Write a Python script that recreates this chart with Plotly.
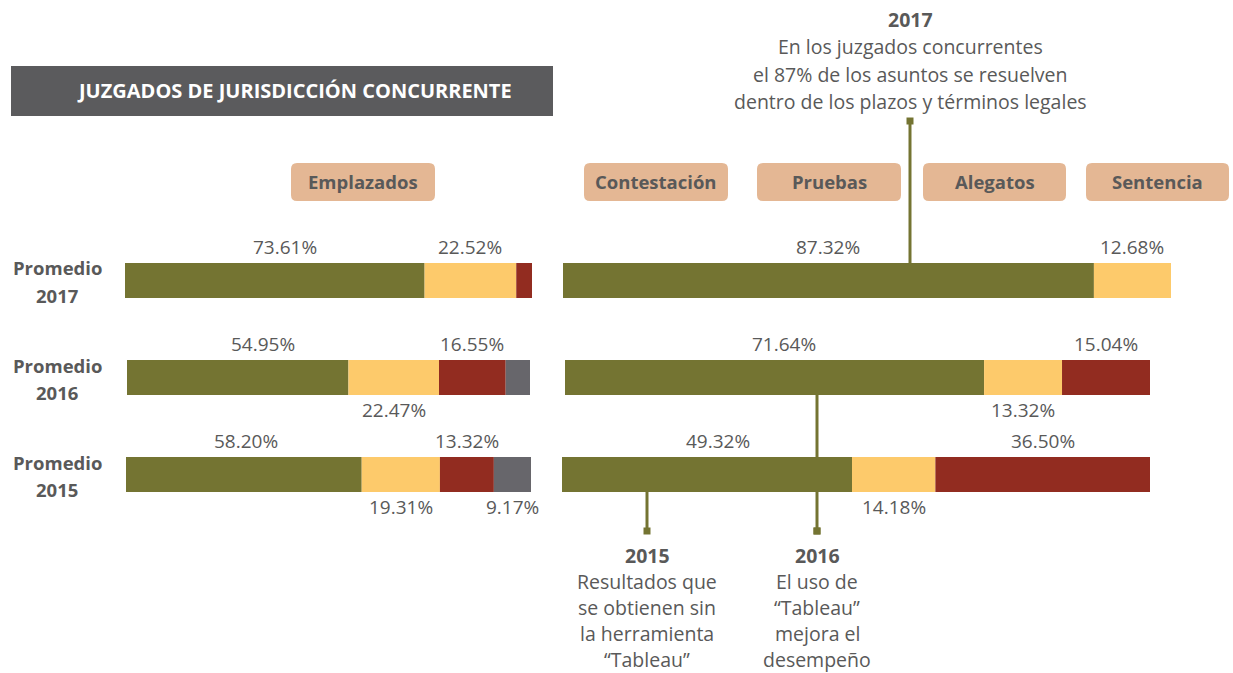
import plotly.graph_objects as go

W, H = 1233, 673

# ---------------- data ----------------
row_labels = [["Promedio", "2017"], ["Promedio", "2016"], ["Promedio", "2015"]]
emplazados_2017 = [73.61, 22.52, 3.87]
emplazados_2016 = [54.95, 22.47, 16.55, 6.03]
emplazados_2015 = [58.20, 19.31, 13.32, 9.17]
etapas_2017 = [87.32, 12.68]
etapas_2016 = [71.64, 13.32, 15.04]
etapas_2015 = [49.32, 14.18, 36.50]
headers = ["Emplazados", "Contestación", "Pruebas", "Alegatos", "Sentencia"]
title_text = "JUZGADOS DE JURISDICCIÓN CONCURRENTE"
note_2017 = ["2017", "En los juzgados concurrentes", "el 87% de los asuntos se resuelven",
             "dentro de los plazos y términos legales"]
note_2015 = ["2015", "Resultados que", "se obtienen sin", "la herramienta", "“Tableau”"]
note_2016 = ["2016", "El uso de", "“Tableau”", "mejora el", "desempeño"]

# ---------------- style ----------------
seg_colors = ["#747432", "#FDCA6B", "#922C20", "#67666B"]
text_grey = "#595959"
FONT = "Open Sans"

def px(x):
    return x / W

def py(y):
    return 1 - y / H

# each bar gets its own axis (pixel extents) ; label placement: a=above, b=below, None=hidden
bars = [
    dict(vals=emplazados_2017, x0=125, x1=532, y0=263, y1=298, lab=["a", "a", None], shift=[10, 0, 0]),
    dict(vals=emplazados_2016, x0=127, x1=530, y0=360, y1=395, lab=["a", "b", "a", None], shift=[25, 0, 0, 0]),
    dict(vals=emplazados_2015, x0=126, x1=531, y0=457, y1=492, lab=["a", "b", "a", "b"], shift=[2, 0, 0, 0]),
    dict(vals=etapas_2017, x0=563, x1=1171, y0=263, y1=298, lab=["a", "a"], shift=[0, 0]),
    dict(vals=etapas_2016, x0=565, x1=1150, y0=360, y1=395, lab=["a", "b", "a"], shift=[9, 0, 0]),
    dict(vals=etapas_2015, x0=562, x1=1150, y0=457, y1=492, lab=["a", "b", "a"], shift=[11, 0, 0]),
]

fig = go.Figure()
annotations = []
shapes = []
layout_axes = {}

for i, b in enumerate(bars, start=1):
    xa = "x" if i == 1 else f"x{i}"
    ya = "y" if i == 1 else f"y{i}"
    xkey = "xaxis" if i == 1 else f"xaxis{i}"
    ykey = "yaxis" if i == 1 else f"yaxis{i}"
    layout_axes[xkey] = dict(domain=[px(b["x0"]), px(b["x1"])], range=[0, sum(b["vals"])],
                             visible=False, fixedrange=True, anchor=ya)
    layout_axes[ykey] = dict(domain=[py(b["y1"]), py(b["y0"])], range=[-0.5, 0.5],
                             visible=False, fixedrange=True, anchor=xa)
    cum = 0
    for j, v in enumerate(b["vals"]):
        fig.add_trace(go.Bar(x=[v], y=[0], base=[cum], orientation="h", width=1,
                             marker=dict(color=seg_colors[j], line=dict(width=0)),
                             xaxis=xa, yaxis=ya, showlegend=False, hoverinfo="skip"))
        pos = b["lab"][j]
        if pos is not None:
            ypix = b["y0"] - 16 if pos == "a" else b["y1"] + 15
            annotations.append(dict(x=cum + v / 2, y=py(ypix), xref=xa, yref="paper",
                                    text=f"{v:.2f}%", showarrow=False, xanchor="center",
                                    yanchor="middle", xshift=b["shift"][j],
                                    font=dict(family=FONT, size=19, color=text_grey)))
        cum += v

# row labels
for (l1, l2), yc in zip(row_labels, [280, 377, 474]):
    annotations.append(dict(x=px(57), y=py(yc - 12), xref="paper", yref="paper", text=f"<b>{l1}</b>",
                            showarrow=False, xanchor="center", yanchor="middle",
                            font=dict(family=FONT, size=18.5, color=text_grey)))
    annotations.append(dict(x=px(57), y=py(yc + 15), xref="paper", yref="paper", text=f"<b>{l2}</b>",
                            showarrow=False, xanchor="center", yanchor="middle",
                            font=dict(family=FONT, size=18.5, color=text_grey)))

# title box
shapes.append(dict(type="rect", xref="paper", yref="paper", x0=px(11), x1=px(553), y0=py(116), y1=py(66),
                   fillcolor="#5B5B5D", line=dict(width=0), layer="below"))
annotations.append(dict(x=px(294), y=py(91), xref="paper", yref="paper", text=f"<b>{title_text}</b>",
                        showarrow=False, xanchor="center", yanchor="middle",
                        font=dict(family=FONT, size=20, color="white")))

# header boxes (rounded)
def rounded(x0, y0, x1, y1, r=6):
    def P(x, y):
        return f"{px(x)},{py(y)}"
    return (f"M {P(x0 + r, y0)} L {P(x1 - r, y0)} Q {P(x1, y0)} {P(x1, y0 + r)} "
            f"L {P(x1, y1 - r)} Q {P(x1, y1)} {P(x1 - r, y1)} L {P(x0 + r, y1)} "
            f"Q {P(x0, y1)} {P(x0, y1 - r)} L {P(x0, y0 + r)} Q {P(x0, y0)} {P(x0 + r, y0)} Z")

header_boxes = [(291, 435), (584, 728), (757, 901), (923, 1066), (1086, 1229)]
for name, (a, bx) in zip(headers, header_boxes):
    shapes.append(dict(type="path", xref="paper", yref="paper", path=rounded(a, 163, bx, 201),
                       fillcolor="#E4B794", line=dict(width=0), layer="below"))
    annotations.append(dict(x=px((a + bx) / 2), y=py(182), xref="paper", yref="paper",
                            text=f"<b>{name}</b>", showarrow=False, xanchor="center", yanchor="middle",
                            font=dict(family=FONT, size=18.5, color=text_grey)))

# connectors
line_col = "#747432"
def connector(x, ya, yb, sq_y):
    shapes.append(dict(type="line", xref="paper", yref="paper", x0=px(x), x1=px(x), y0=py(ya), y1=py(yb),
                       line=dict(color=line_col, width=3), layer="above"))
    shapes.append(dict(type="rect", xref="paper", yref="paper", x0=px(x - 3.5), x1=px(x + 3.5),
                       y0=py(sq_y + 3.5), y1=py(sq_y - 3.5), fillcolor=line_col, line=dict(width=0)))

connector(910, 121, 263, 121)
connector(817, 395, 457, 531)
connector(817, 492, 531, 531)
connector(647, 492, 531, 531)

# notes
def note(lines, xc, y_first, step):
    for k, t in enumerate(lines):
        txt = f"<b>{t}</b>" if k == 0 else t
        annotations.append(dict(x=px(xc), y=py(y_first + k * step), xref="paper", yref="paper",
                                text=txt, showarrow=False, xanchor="center", yanchor="middle",
                                font=dict(family=FONT, size=19.5, color=text_grey)))

note(note_2017, 910, 19, 27.5)
note(note_2015, 647, 555, 26.2)
note(note_2016, 817, 555, 26.2)

fig.update_layout(width=W, height=H, autosize=False, margin=dict(l=0, r=0, t=0, b=0),
                  paper_bgcolor="white", plot_bgcolor="white", barmode="overlay",
                  annotations=annotations, shapes=shapes, showlegend=False, **layout_axes)

fig.write_html("out.html", config={"displayModeBar": False, "staticPlot": True},
               post_script="document.body.style.margin='0';document.body.style.overflow='hidden';")
